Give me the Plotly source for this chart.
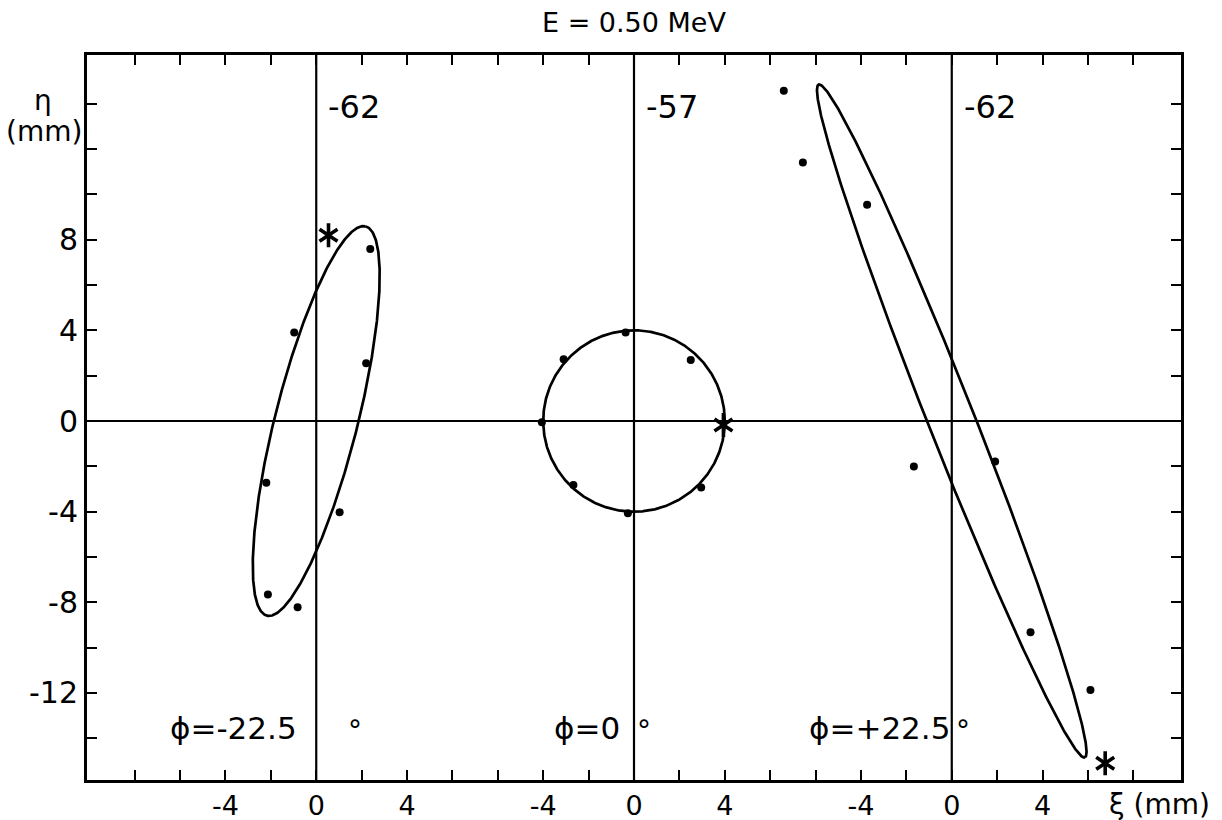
import numpy as np
import plotly.graph_objects as go

# Horizontal offset (mm) of each panel's origin on the shared axis
panel_offsets = [-14, 0, 14]
panel_values = ["-62", "-57", "-62"]
panel_phi = ["-22.5", "0", "+22.5"]

# Measured beam points (xi, eta) in mm, one list per panel
dots_xi = [
    [2.38, -0.97, 2.20, -2.20, 1.03, -2.13, -0.82],
    [-0.37, -3.10, 2.50, -4.06, -2.67, 2.96, -0.27],
    [-7.40, -6.56, -3.73, -1.67, 1.91, 3.47, 6.11],
]
dots_eta = [
    [7.59, 3.91, 2.55, -2.72, -4.03, -7.66, -8.22],
    [3.91, 2.73, 2.69, -0.06, -2.82, -2.93, -4.07],
    [14.57, 11.41, 9.54, -2.01, -1.79, -9.32, -11.87],
]
star_xi = [0.54, 3.94, 6.76]
star_eta = [8.20, -0.18, -15.10]

# Fitted emittance ellipses: semi-major, semi-minor (mm), tilt (deg)
ell_major = [8.86, 4.0, 15.96]
ell_minor = [1.816, 4.0, 1.02]
ell_tilt = [75.8, 0.0, -68.45]

# Axis ticks
x_tick_pos = list(range(-22, 23, 2))
x_tick_labels = {-18: "-4", -14: "0", -10: "4", -4: "-4", 0: "0", 4: "4",
                 10: "-4", 14: "0", 18: "4"}
y_tick_pos = list(range(-14, 15, 2))
y_tick_labels = {8: "8", 4: "4", 0: "0", -4: "-4", -8: "-8", -12: "-12"}

X_RANGE = [-24.1, 24.1]
Y_RANGE = [-15.84, 16.15]

FONT = "DejaVu Sans"
INK = "black"

fig = go.Figure()

# Panel origin lines
for off in panel_offsets:
    fig.add_trace(go.Scatter(x=[off, off], y=Y_RANGE, mode="lines",
                             line=dict(color=INK, width=2.2),
                             showlegend=False, hoverinfo="skip"))
fig.add_trace(go.Scatter(x=X_RANGE, y=[0, 0], mode="lines",
                         line=dict(color=INK, width=2.2),
                         showlegend=False, hoverinfo="skip"))

t = np.linspace(0, 2 * np.pi, 600)
for i, off in enumerate(panel_offsets):
    th = np.radians(ell_tilt[i])
    a, b = ell_major[i], ell_minor[i]
    ex = a * np.cos(t) * np.cos(th) - b * np.sin(t) * np.sin(th)
    ey = a * np.cos(t) * np.sin(th) + b * np.sin(t) * np.cos(th)
    fig.add_trace(go.Scatter(x=ex + off, y=ey, mode="lines",
                             line=dict(color=INK, width=2.7),
                             showlegend=False, hoverinfo="skip"))
    fig.add_trace(go.Scatter(x=np.array(dots_xi[i]) + off, y=dots_eta[i],
                             mode="markers",
                             marker=dict(color=INK, size=8, symbol="circle"),
                             showlegend=False))
    for sym in ("y-up-open", "y-down-open"):
        fig.add_trace(go.Scatter(x=[star_xi[i] + off], y=[star_eta[i]],
                                 mode="markers",
                                 marker=dict(symbol=sym, size=15, color=INK,
                                             line=dict(color=INK, width=3.6)),
                                 showlegend=False))

annotations = []
for i, off in enumerate(panel_offsets):
    annotations.append(dict(x=off + 0.45, y=13.85, xref="x", yref="y",
                            text=panel_values[i], showarrow=False,
                            xanchor="left", yanchor="middle",
                            font=dict(family=FONT, size=32, color=INK)))
phi_x = [-20.55, -3.6, 7.6]
deg_x = [-12.3, 0.45, 14.5]
for i in range(3):
    annotations.append(dict(x=phi_x[i], y=-13.55, xref="x", yref="y",
                            text="ϕ=" + panel_phi[i], showarrow=False,
                            xanchor="left", yanchor="middle",
                            font=dict(family=FONT, size=31, color=INK)))
    annotations.append(dict(x=deg_x[i], y=-13.67, xref="x", yref="y",
                            text="°", showarrow=False,
                            xanchor="center", yanchor="middle",
                            font=dict(family=FONT, size=28, color=INK)))

annotations += [
    dict(x=0, y=1, xref="x", yref="paper", yshift=33, text="E = 0.50 MeV",
         showarrow=False, xanchor="center", yanchor="middle",
         font=dict(family=FONT, size=27, color=INK)),
    dict(x=43, y=100, xref="paper", yref="paper", text="η", showarrow=False,
         font=dict(family=FONT, size=28, color=INK)),
    dict(x=44, y=131, xref="paper", yref="paper", text="(mm)", showarrow=False,
         font=dict(family=FONT, size=28, color=INK)),
    dict(x=20.86, y=0, xref="x", yref="paper", yshift=-24, text="ξ (mm)",
         showarrow=False, xanchor="left", yanchor="middle",
         font=dict(family=FONT, size=28, color=INK)),
]

# η / (mm) placed in pixel space: convert to paper fractions
W, H = 1222, 820
ML, MR, MT, MB = 87, 41, 55, 40
for ann in annotations:
    if ann.get("xref") == "paper" and ann["x"] > 1:
        ann["x"] = (ann["x"] - ML) / (W - ML - MR)
        ann["y"] = 1 - (ann["y"] - MT) / (H - MT - MB)
        ann["xanchor"] = "center"
        ann["yanchor"] = "middle"

axis_common = dict(showgrid=False, zeroline=False, automargin=False,
                   showline=True, linecolor=INK, linewidth=3, mirror="ticks",
                   ticks="inside", ticklen=10, tickwidth=2.2, tickcolor=INK)

fig.update_layout(
    template="none",
    width=W, height=H,
    margin=dict(l=ML, r=MR, t=MT, b=MB, autoexpand=False),
    plot_bgcolor="white", paper_bgcolor="white",
    showlegend=False,
    annotations=annotations,
    xaxis=dict(range=X_RANGE, tickvals=x_tick_pos,
               ticktext=[x_tick_labels.get(v, "") for v in x_tick_pos],
               tickfont=dict(family=FONT, size=27, color=INK),
               **axis_common),
    yaxis=dict(range=Y_RANGE, tickvals=y_tick_pos,
               ticktext=[y_tick_labels.get(v, "") for v in y_tick_pos],
               tickfont=dict(family=FONT, size=30, color=INK),
               **axis_common),
)

fig.write_html("out.html")
